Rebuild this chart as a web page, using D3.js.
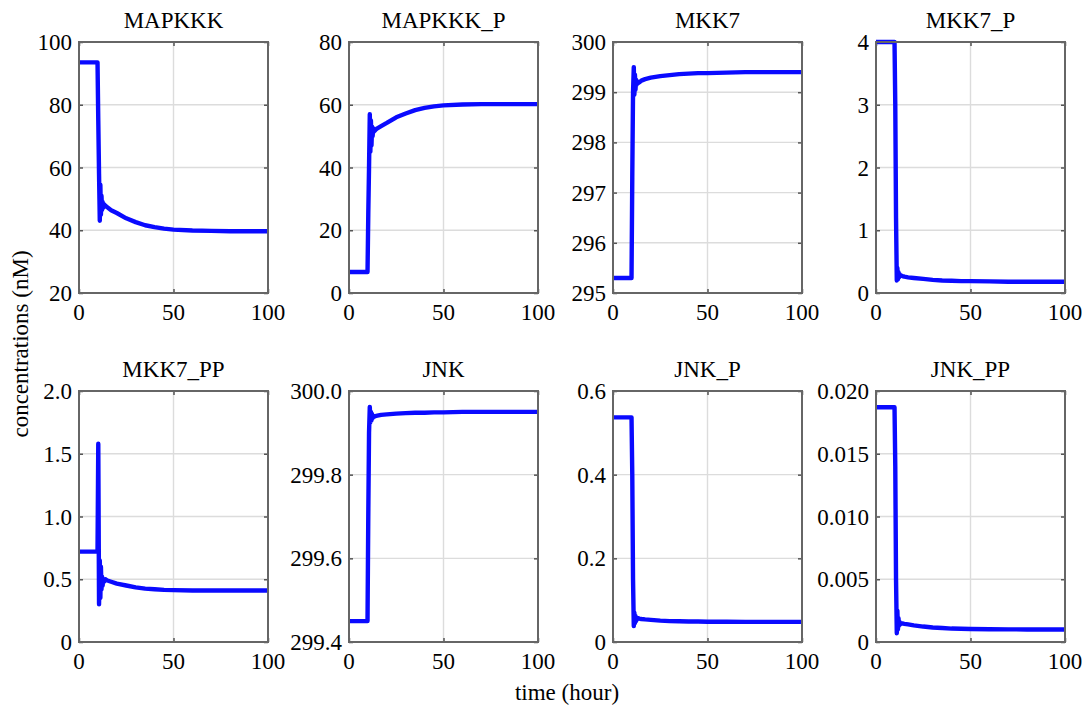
<!DOCTYPE html>
<html>
<head>
<meta charset="utf-8">
<script src="https://cdn.jsdelivr.net/npm/d3@7"></script>
<style>
  html, body { margin: 0; padding: 0; background: #fff; }
  svg { display: block; }
</style>
</head>
<body>
<svg id="chart" width="1087" height="708"></svg>
<script>
// Simulated time course (hours) shared by all species
const time = [0, 9.8, 10.2, 10.6, 11.0, 11.3, 11.6, 11.9, 12.2, 12.5, 12.8, 13.2, 14, 15, 17, 20, 25, 30, 35, 40, 45, 50, 60, 70, 80, 90, 100];

// Concentrations (nM) of each species at the time points above
const mapkkk   = [93.5, 93.5, 75, 58, 43, 54.5, 45, 51, 46.5, 49, 47.2, 48.3, 47.8, 47.3, 46.4, 45.5, 43.8, 42.6, 41.6, 41.0, 40.5, 40.2, 39.9, 39.8, 39.7, 39.7, 39.7];
const mapkkkP  = [6.7, 6.7, 25, 40, 57, 45, 55, 47, 53, 50, 52.5, 51.5, 52.0, 52.5, 53.2, 54.2, 56.0, 57.2, 58.3, 59.0, 59.5, 59.8, 60.1, 60.2, 60.2, 60.2, 60.2];
const mkk7     = [295.3, 295.3, 297.3, 299.0, 299.5, 298.95, 299.35, 299.05, 299.25, 299.15, 299.22, 299.18, 299.2, 299.23, 299.26, 299.29, 299.32, 299.34, 299.36, 299.37, 299.38, 299.38, 299.39, 299.4, 299.4, 299.4, 299.4];
const mkk7P    = [4.0, 4.0, 3.0, 1.2, 0.2, 0.4, 0.22, 0.33, 0.25, 0.3, 0.27, 0.28, 0.27, 0.26, 0.25, 0.24, 0.225, 0.21, 0.2, 0.195, 0.19, 0.19, 0.185, 0.18, 0.18, 0.18, 0.18];
const mkk7PP   = [0.72, 0.72, 1.58, 0.3, 0.65, 0.35, 0.6, 0.42, 0.52, 0.45, 0.5, 0.48, 0.5, 0.49, 0.48, 0.465, 0.45, 0.435, 0.425, 0.42, 0.415, 0.413, 0.41, 0.41, 0.41, 0.41, 0.41];
const jnk      = [299.45, 299.45, 299.7, 299.9, 299.962, 299.925, 299.95, 299.93, 299.945, 299.935, 299.94, 299.938, 299.94, 299.941, 299.943, 299.944, 299.946, 299.947, 299.948, 299.948, 299.949, 299.949, 299.95, 299.95, 299.95, 299.95, 299.95];
const jnkP     = [0.537, 0.537, 0.4, 0.15, 0.038, 0.07, 0.045, 0.062, 0.05, 0.058, 0.054, 0.057, 0.056, 0.055, 0.054, 0.053, 0.051, 0.05, 0.0495, 0.049, 0.049, 0.0485, 0.0485, 0.048, 0.048, 0.048, 0.048];
const jnkPP    = [0.0187, 0.0187, 0.014, 0.005, 0.0007, 0.0025, 0.001, 0.0019, 0.0013, 0.0016, 0.0014, 0.0015, 0.00148, 0.00145, 0.0014, 0.00132, 0.00123, 0.00116, 0.00111, 0.00107, 0.00105, 0.00103, 0.00102, 0.00101, 0.001, 0.001, 0.001];

// Panel titles, y ranges and tick labels
const titles = ["MAPKKK", "MAPKKK_P", "MKK7", "MKK7_P", "MKK7_PP", "JNK", "JNK_P", "JNK_PP"];
const seriesList = [mapkkk, mapkkkP, mkk7, mkk7P, mkk7PP, jnk, jnkP, jnkPP];
const yDomains = [[20, 100], [0, 80], [295, 300], [0, 4], [0, 2], [299.4, 300.0], [0, 0.6], [0, 0.02]];
const yTickValues = [
  [20, 40, 60, 80, 100],
  [0, 20, 40, 60, 80],
  [295, 296, 297, 298, 299, 300],
  [0, 1, 2, 3, 4],
  [0, 0.5, 1.0, 1.5, 2.0],
  [299.4, 299.6, 299.8, 300.0],
  [0, 0.2, 0.4, 0.6],
  [0, 0.005, 0.010, 0.015, 0.020]
];
const yTickLabels = [
  ["20", "40", "60", "80", "100"],
  ["0", "20", "40", "60", "80"],
  ["295", "296", "297", "298", "299", "300"],
  ["0", "1", "2", "3", "4"],
  ["0", "0.5", "1.0", "1.5", "2.0"],
  ["299.4", "299.6", "299.8", "300.0"],
  ["0", "0.2", "0.4", "0.6"],
  ["0", "0.005", "0.010", "0.015", "0.020"]
];
const xDomain = [0, 100];
const xTickValues = [0, 50, 100];
const xTickLabels = ["0", "50", "100"];
const yAxisTitle = "concentrations (nM)";
const xAxisTitle = "time (hour)";

// Layout of the 2 x 4 grid of panels
const colLeft = [79, 349, 613, 876];
const rowTop = [42, 391];
const panelW = 189, panelH = 251;
const fontSize = 23;
const serif = "'Liberation Serif', 'DejaVu Serif', 'Times New Roman', Times, serif";

const svg = d3.select("#chart")
  .attr("font-family", serif)
  .style("font-family", serif);

function label(sel) {
  return sel.attr("font-family", serif).style("font-family", serif)
    .attr("font-size", fontSize).attr("fill", "#000");
}

seriesList.forEach((values, i) => {
  const col = i % 4, row = Math.floor(i / 4);
  const g = svg.append("g").attr("transform", `translate(${colLeft[col]},${rowTop[row]})`);

  const x = d3.scaleLinear().domain(xDomain).range([0, panelW]);
  const y = d3.scaleLinear().domain(yDomains[i]).range([panelH, 0]);

  // grid lines
  g.append("g").selectAll("line")
    .data(xTickValues.slice(1, -1)).join("line")
    .attr("x1", d => x(d)).attr("x2", d => x(d))
    .attr("y1", 0).attr("y2", panelH)
    .attr("stroke", "#dcdcdc").attr("stroke-width", 1.4);
  g.append("g").selectAll("line")
    .data(yTickValues[i].slice(1, -1)).join("line")
    .attr("y1", d => y(d)).attr("y2", d => y(d))
    .attr("x1", 0).attr("x2", panelW)
    .attr("stroke", "#dcdcdc").attr("stroke-width", 1.4);

  // inward tick marks on all four sides
  const tl = 4;
  const yAxisL = d3.axisLeft(y).tickValues(yTickValues[i]).tickSize(-tl).tickFormat("");
  const yAxisR = d3.axisRight(y).tickValues(yTickValues[i]).tickSize(-tl).tickFormat("");
  const xAxisB = d3.axisBottom(x).tickValues(xTickValues).tickSize(-tl).tickFormat("");
  const xAxisT = d3.axisTop(x).tickValues(xTickValues).tickSize(-tl).tickFormat("");
  [[yAxisL, 0, 0], [yAxisR, panelW, 0], [xAxisB, 0, panelH], [xAxisT, 0, 0]].forEach(([ax, tx, ty]) => {
    const a = g.append("g").attr("transform", `translate(${tx},${ty})`).call(ax);
    a.select(".domain").remove();
    a.selectAll(".tick line").attr("stroke", "#555").attr("stroke-width", 1.5);
  });

  // tick labels
  label(g.append("g").selectAll("text")
    .data(yTickValues[i]).join("text")
    .attr("x", -7).attr("y", d => y(d)).attr("dy", "0.35em")
    .attr("text-anchor", "end"))
    .text((d, k) => yTickLabels[i][k]);
  label(g.append("g").selectAll("text")
    .data(xTickValues).join("text")
    .attr("x", d => x(d)).attr("y", panelH + 19).attr("dy", "0.35em")
    .attr("text-anchor", "middle"))
    .text((d, k) => xTickLabels[k]);

  // time course
  const line = d3.line().x(d => x(d[0])).y(d => y(d[1]));
  g.append("path")
    .datum(time.map((t, k) => [t, values[k]]))
    .attr("d", line)
    .attr("fill", "none").attr("stroke", "#0a0aff")
    .attr("stroke-width", 4.4).attr("stroke-linejoin", "round").attr("stroke-linecap", "butt");

  // frame
  g.append("rect").attr("width", panelW).attr("height", panelH)
    .attr("fill", "none").attr("stroke", "#666").attr("stroke-width", 2);

  // title
  label(g.append("text").attr("x", panelW / 2).attr("y", -14)
    .attr("text-anchor", "middle"))
    .text(titles[i]);
});

// shared axis titles
label(svg.append("text")
  .attr("transform", "translate(20,344) rotate(-90)")
  .attr("dy", "0.35em").attr("text-anchor", "middle"))
  .text(yAxisTitle);
label(svg.append("text")
  .attr("x", 567).attr("y", 692).attr("dy", "0.35em")
  .attr("text-anchor", "middle"))
  .text(xAxisTitle);
</script>
</body>
</html>
